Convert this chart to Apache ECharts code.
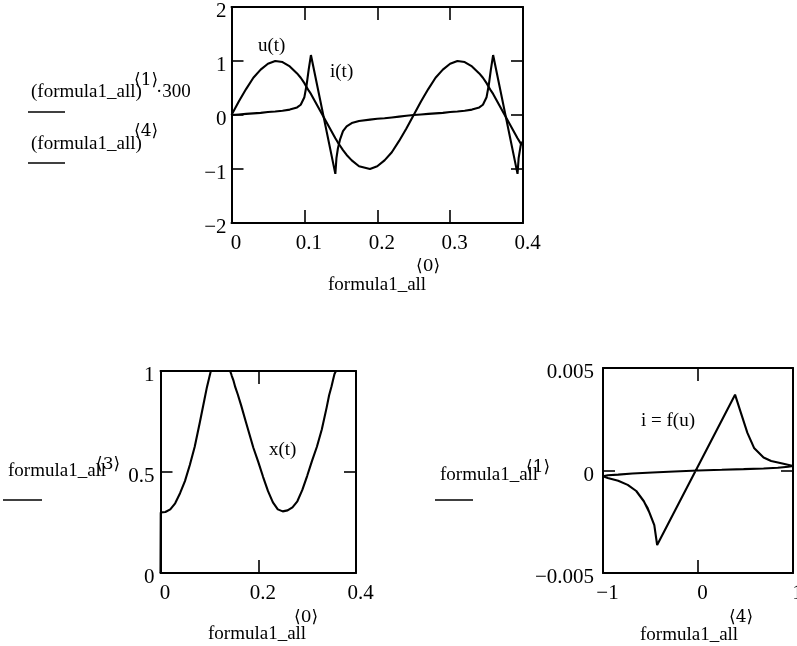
<!DOCTYPE html>
<html><head><meta charset="utf-8">
<script src="https://cdn.jsdelivr.net/npm/echarts@6/dist/echarts.min.js"></script>
<style>html,body{margin:0;padding:0;background:#fff}#c{width:797px;height:646px}</style>
</head><body><div id="c"></div>
<script>
// formula1_all columns: <0> time t, <4> voltage u, <1> current i (shown here as i*300), <3> position x
const t = [0, 0.0005, 0.01, 0.02, 0.03, 0.04, 0.05, 0.06, 0.07, 0.08, 0.09, 0.095, 0.10, 0.103, 0.106, 0.109,
  0.1425, 0.144, 0.146, 0.149, 0.153, 0.158, 0.165, 0.175, 0.19, 0.20, 0.21, 0.22, 0.23, 0.24, 0.25,
  0.26, 0.27, 0.28, 0.29, 0.30, 0.31, 0.32, 0.33, 0.34, 0.345, 0.35, 0.353, 0.356, 0.359,
  0.3925, 0.394, 0.397, 0.40];
const u = [0, 0.01, 0.25, 0.48, 0.69, 0.84, 0.95, 1.00, 0.98, 0.90, 0.77, 0.69, 0.59, 0.52, 0.45, 0.39,
  -0.43, -0.46, -0.51, -0.57, -0.65, -0.74, -0.84, -0.95, -1.00, -0.95, -0.84, -0.69, -0.48, -0.25, 0,
  0.25, 0.48, 0.69, 0.84, 0.95, 1.00, 0.98, 0.90, 0.77, 0.69, 0.59, 0.52, 0.45, 0.39,
  -0.43, -0.46, -0.53, -0.56];
const i300 = [0, 0, 0.01, 0.02, 0.03, 0.04, 0.055, 0.065, 0.08, 0.10, 0.14, 0.19, 0.33, 0.55, 0.85, 1.11,
  -1.09, -0.80, -0.62, -0.45, -0.30, -0.21, -0.15, -0.11, -0.085, -0.07, -0.06, -0.045, -0.03, -0.015, 0,
  0.01, 0.02, 0.03, 0.04, 0.055, 0.065, 0.08, 0.10, 0.14, 0.19, 0.33, 0.55, 0.85, 1.11,
  -1.09, -0.80, -0.55, -0.48];
const x = [0, 0.30, 0.302, 0.315, 0.345, 0.395, 0.455, 0.535, 0.625, 0.74, 0.86, 0.92, 0.97, 1, 1, 1,
  1, 0.99, 0.975, 0.955, 0.92, 0.885, 0.83, 0.745, 0.62, 0.55, 0.475, 0.405, 0.35, 0.315, 0.305,
  0.31, 0.325, 0.355, 0.41, 0.48, 0.555, 0.625, 0.71, 0.82, 0.88, 0.925, 0.955, 0.985, 1,
  1, 1, 1, 1];

const ticksT = [0, 0.1, 0.2, 0.3, 0.4];
const ticksTopY = [-2, -1, 0, 1, 2];
const ticksT2 = [0, 0.2, 0.4];
const ticksX = [0, 0.5, 1];
const ticksU = [-1, 0, 1];
const ticksI = [-0.005, 0, 0.005];
const currentScale = 300;

const FONT = '"Liberation Serif", "Times New Roman", serif';
const BRFONT = '"DejaVu Serif", "Liberation Serif", serif';
function fmt(v) { v = Math.round(v * 1e6) / 1e6; return (v < 0 ? '\u2212' : '') + String(Math.abs(v)); }
const TICKFS = 21;

function mkX(g, ticks) {
  const base = {gridIndex: g, type: 'value', min: ticks[0], max: ticks[ticks.length - 1], interval: ticks[1] - ticks[0],
    splitLine: {show: false},
    axisLine: {show: true, onZero: false, lineStyle: {color: '#000', width: 2}},
    axisTick: {show: true, inside: true, length: 13, lineStyle: {color: '#000', width: 1.6}}};
  return [
    Object.assign({}, base, {position: 'bottom', axisLabel: {show: true, color: '#000', fontFamily: FONT, fontSize: TICKFS, margin: 10,
      formatter: v => '{a|' + fmt(v) + '}', rich: {a: {fontFamily: FONT, fontSize: TICKFS, color: '#000', padding: [0, 0, 0, 9]}}, hideOverlap: false}}),
    Object.assign({}, base, {position: 'top', axisLabel: {show: false}})
  ];
}
function mkY(g, ticks, margin) {
  const base = {gridIndex: g, type: 'value', min: ticks[0], max: ticks[ticks.length - 1], interval: ticks[1] - ticks[0],
    splitLine: {show: false},
    axisLine: {show: true, onZero: false, lineStyle: {color: '#000', width: 2}},
    axisTick: {show: true, inside: true, length: 12, lineStyle: {color: '#000', width: 1.6}}};
  return [
    Object.assign({}, base, {position: 'left', axisLabel: {show: true, color: '#000', fontFamily: FONT, fontSize: TICKFS, margin: margin,
      formatter: v => '{a|' + fmt(v) + '}', rich: {a: {fontFamily: FONT, fontSize: TICKFS, color: '#000', padding: [9, 0, 0, 0]}}, hideOverlap: false}}),
    Object.assign({}, base, {position: 'right', axisLabel: {show: false}})
  ];
}

const lineStyle = {color: '#000', width: 2.1};
function ser(xi, yi, data) {
  return {type: 'line', xAxisIndex: xi, yAxisIndex: yi, data: data, showSymbol: false, symbol: 'none',
    lineStyle: lineStyle, itemStyle: {color: '#000'}, animation: false, silent: true, clip: true};
}

function txt(s, x0, y0, size, fam) {
  return {type: 'text', x: x0, y: y0, style: {text: s, fill: '#000', font: size + 'px ' + (fam || FONT), align: 'left', verticalAlign: 'middle'}, silent: true};
}
function ul(x1, x2, y0) {
  return {type: 'line', shape: {x1: x1, y1: y0, x2: x2, y2: y0}, style: {stroke: '#000', lineWidth: 1.6}, silent: true};
}

const chart = echarts.init(document.getElementById('c'), null, {renderer: 'canvas'});
chart.setOption({
  backgroundColor: '#fff',
  animation: false,
  grid: [
    {left: 231.5, top: 7, width: 291.5, height: 216, containLabel: false, outerBoundsMode: 'none'},
    {left: 160.5, top: 371, width: 195.5, height: 202, containLabel: false, outerBoundsMode: 'none'},
    {left: 603, top: 368, width: 190, height: 205, containLabel: false, outerBoundsMode: 'none'}
  ],
  xAxis: [].concat(mkX(0, ticksT), mkX(1, ticksT2), mkX(2, ticksU)),
  yAxis: [].concat(mkY(0, ticksTopY, 5), mkY(1, ticksX, 6), mkY(2, ticksI, 9)),
  series: [
    ser(0, 0, t.map((v, k) => [v, i300[k]])),
    ser(0, 0, t.map((v, k) => [v, u[k]])),
    ser(2, 2, t.map((v, k) => [v, x[k]])),
    ser(4, 4, u.map((v, k) => [v, i300[k] / currentScale]))
  ],
  graphic: [
    txt('(formula1_all)', 31, 92, 19), txt('\u27E81\u27E9', 134, 81, 17, BRFONT), txt('\u00B7300', 156, 92, 19),
    ul(28, 65, 112),
    txt('(formula1_all)', 31, 144, 19), txt('\u27E84\u27E9', 134, 132, 17, BRFONT),
    ul(28, 65, 163),
    txt('formula1_all', 328, 285, 19), txt('\u27E80\u27E9', 416, 267, 17, BRFONT),
    txt('formula1_all', 8, 471, 19), txt('\u27E83\u27E9', 96, 465, 17, BRFONT),
    ul(3, 42, 500),
    txt('formula1_all', 208, 634, 19), txt('\u27E80\u27E9', 294, 618, 17, BRFONT),
    txt('formula1_all', 440, 475, 19), txt('\u27E81\u27E9', 526, 468, 17, BRFONT),
    ul(435, 473, 500),
    txt('formula1_all', 640, 635, 19), txt('\u27E84\u27E9', 729, 618, 17, BRFONT),
    txt('u(t)', 258, 46, 19), txt('i(t)', 330, 72, 19), txt('x(t)', 269, 450, 19), txt('i = f(u)', 641, 421, 19)
  ]
});
</script></body></html>
